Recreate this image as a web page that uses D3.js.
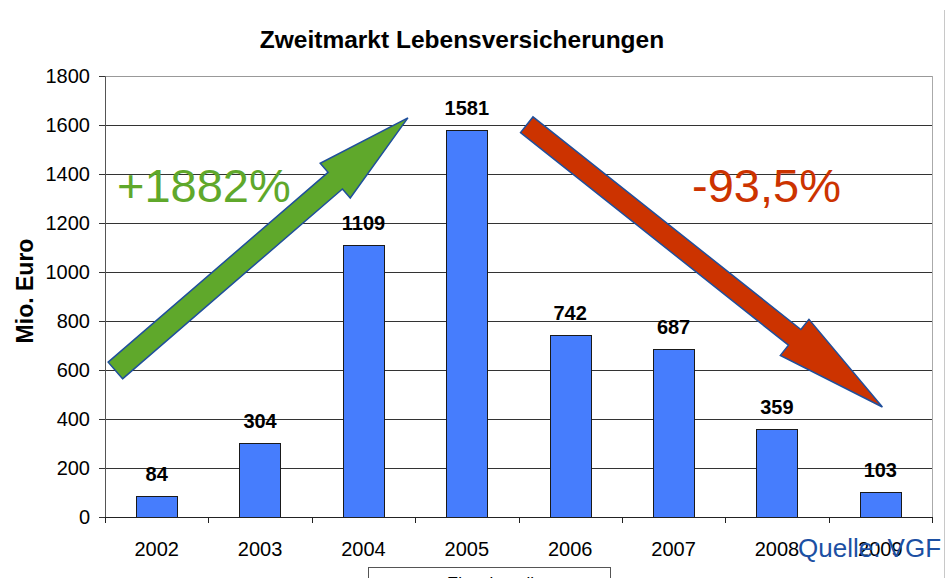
<!DOCTYPE html>
<html>
<head>
<meta charset="utf-8">
<script src="https://cdn.jsdelivr.net/npm/d3@7"></script>
<style>
	body { margin: 0; background: #fff; }
	svg { display: block; font-family: "Liberation Sans", Arial, sans-serif; }
</style>
</head>
<body>
<div id="chart"></div>
<script>
// chart values
var years = ["2002", "2003", "2004", "2005", "2006", "2007", "2008", "2009"];
var volumes = [84, 304, 1109, 1581, 742, 687, 359, 103];
var yTicks = [0, 200, 400, 600, 800, 1000, 1200, 1400, 1600, 1800];

// arrows: positions in category units (0..8) and values
var growthArrow = { x0: 0.1, v0: 598, x1: 2.93, v1: 1629, label: "+1882%" };
var dropArrow = { x0: 4.08, v0: 1601, x1: 7.52, v1: 449, label: "-93,5%" };

const totalWidth = 947, totalHeight = 578;
const margin = { top: 76, right: 15, bottom: 61, left: 105 },
	width = 932 - margin.left,
	height = 517 - margin.top;

const svg = d3.select("#chart").append("svg")
	.attr("width", totalWidth)
	.attr("height", totalHeight);

// outer frame line on the right
svg.append("line")
	.attr("x1", 944.5).attr("x2", 944.5)
	.attr("y1", 10).attr("y2", totalHeight)
	.attr("stroke", "#c8c8c8");

svg.append("text")
	.attr("x", 462)
	.attr("y", 48)
	.attr("text-anchor", "middle")
	.style("font-size", "24.5px")
	.style("font-weight", "bold")
	.text("Zweitmarkt Lebensversicherungen");

const g = svg.append("g")
	.attr("transform", "translate(" + margin.left + "," + margin.top + ")");

const x = d3.scaleBand().domain(years).range([0, width]).paddingInner(0.6).paddingOuter(0.3);
const xu = d3.scaleLinear().domain([0, years.length]).range([0, width]);
const y = d3.scaleLinear().domain([0, 1800]).range([height, 0]);

// gridlines
g.selectAll(".grid")
	.data(yTicks.slice(1))
	.enter().append("line")
	.attr("x1", 0).attr("x2", width)
	.attr("y1", d => Math.round(y(d)) + 0.5)
	.attr("y2", d => Math.round(y(d)) + 0.5)
	.attr("stroke", d => d === 1800 ? "#999" : "#333")
	.attr("stroke-width", 1);

// right border
g.append("line")
	.attr("x1", width + 0.5).attr("x2", width + 0.5)
	.attr("y1", 0).attr("y2", height)
	.attr("stroke", "#aaa");

// bars
g.selectAll(".bar")
	.data(volumes)
	.enter().append("rect")
	.attr("x", (d, i) => Math.round(x(years[i])) + 0.5)
	.attr("width", Math.round(x.bandwidth()))
	.attr("y", d => Math.round(y(d)) + 0.5)
	.attr("height", d => height - Math.round(y(d)))
	.attr("fill", "#467dfd")
	.attr("stroke", "#1a1a1a")
	.attr("stroke-width", 1);

// value labels
g.selectAll(".lbl")
	.data(volumes)
	.enter().append("text")
	.attr("x", (d, i) => x(years[i]) + x.bandwidth() / 2)
	.attr("y", d => y(d) - 15)
	.attr("text-anchor", "middle")
	.style("font-size", "20px")
	.style("font-weight", "bold")
	.text(d => d);

// y axis
const yAxis = g.append("g")
	.call(d3.axisLeft(y).tickValues(yTicks).tickFormat(d3.format("d")).tickSize(6).tickPadding(9));
yAxis.select(".domain").attr("stroke", "#555");
yAxis.selectAll(".tick line").attr("stroke", "#333");
yAxis.selectAll("text").style("font-size", "20px").attr("fill", "#000")
	.style("font-family", "'Liberation Sans', Arial, sans-serif");

// x axis: ticks on category boundaries
const xAxis = g.append("g")
	.attr("transform", "translate(0," + height + ")");
xAxis.append("line")
	.attr("x1", 0).attr("x2", width)
	.attr("y1", 0.5).attr("y2", 0.5)
	.attr("stroke", "#222");
xAxis.selectAll(".xtick")
	.data(d3.range(years.length + 1))
	.enter().append("line")
	.attr("x1", d => Math.round(xu(d)) + 0.5)
	.attr("x2", d => Math.round(xu(d)) + 0.5)
	.attr("y1", 0).attr("y2", 6)
	.attr("stroke", "#222");
xAxis.selectAll(".xlbl")
	.data(years)
	.enter().append("text")
	.attr("x", d => x(d) + x.bandwidth() / 2)
	.attr("y", 39)
	.attr("text-anchor", "middle")
	.style("font-size", "20px")
	.text(d => d);

// y axis title
svg.append("text")
	.attr("transform", "translate(33,291) rotate(-90)")
	.attr("text-anchor", "middle")
	.style("font-size", "23px")
	.style("font-weight", "bold")
	.text("Mio. Euro");

// block arrows
function arrowPath(a, shaft, head, headLen) {
	const px0 = xu(a.x0), py0 = y(a.v0), px1 = xu(a.x1), py1 = y(a.v1);
	const dx = px1 - px0, dy = py1 - py0, len = Math.hypot(dx, dy);
	const ux = dx / len, uy = dy / len, nx = -uy, ny = ux;
	const bx = px1 - ux * headLen, by = py1 - uy * headLen;
	const pts = [
		[px0 + nx * shaft / 2, py0 + ny * shaft / 2],
		[bx + nx * shaft / 2, by + ny * shaft / 2],
		[bx + nx * head / 2, by + ny * head / 2],
		[px1, py1],
		[bx - nx * head / 2, by - ny * head / 2],
		[bx - nx * shaft / 2, by - ny * shaft / 2],
		[px0 - nx * shaft / 2, py0 - ny * shaft / 2]
	];
	return d3.line()(pts) + "Z";
}

g.append("path")
	.attr("d", arrowPath(growthArrow, 22, 46, 96))
	.attr("fill", "#5fa82b")
	.attr("stroke", "#1f4f9c")
	.attr("stroke-width", 1.5);

g.append("path")
	.attr("d", arrowPath(dropArrow, 20, 46, 112))
	.attr("fill", "#cc3300")
	.attr("stroke", "#1f4f9c")
	.attr("stroke-width", 1.5);

svg.append("text")
	.attr("x", 117)
	.attr("y", 202)
	.attr("fill", "#5fa82b")
	.style("font-size", "47px")
	.text(growthArrow.label);

svg.append("text")
	.attr("x", 692)
	.attr("y", 202)
	.attr("fill", "#cc3300")
	.style("font-size", "47px")
	.text(dropArrow.label);

// legend box, cut off at the bottom
svg.append("rect")
	.attr("x", 368.5).attr("y", 567.5)
	.attr("width", 242).attr("height", 30)
	.attr("fill", "#fff")
	.attr("stroke", "#555");
svg.append("text")
	.attr("x", 447)
	.attr("y", 589)
	.style("font-size", "17px")
	.text("Einzelanteile");

// source
svg.append("text")
	.attr("x", 798)
	.attr("y", 557)
	.attr("fill", "#1c50a3")
	.style("font-size", "26px")
	.text("Quelle: VGF");
</script>
</body>
</html>
